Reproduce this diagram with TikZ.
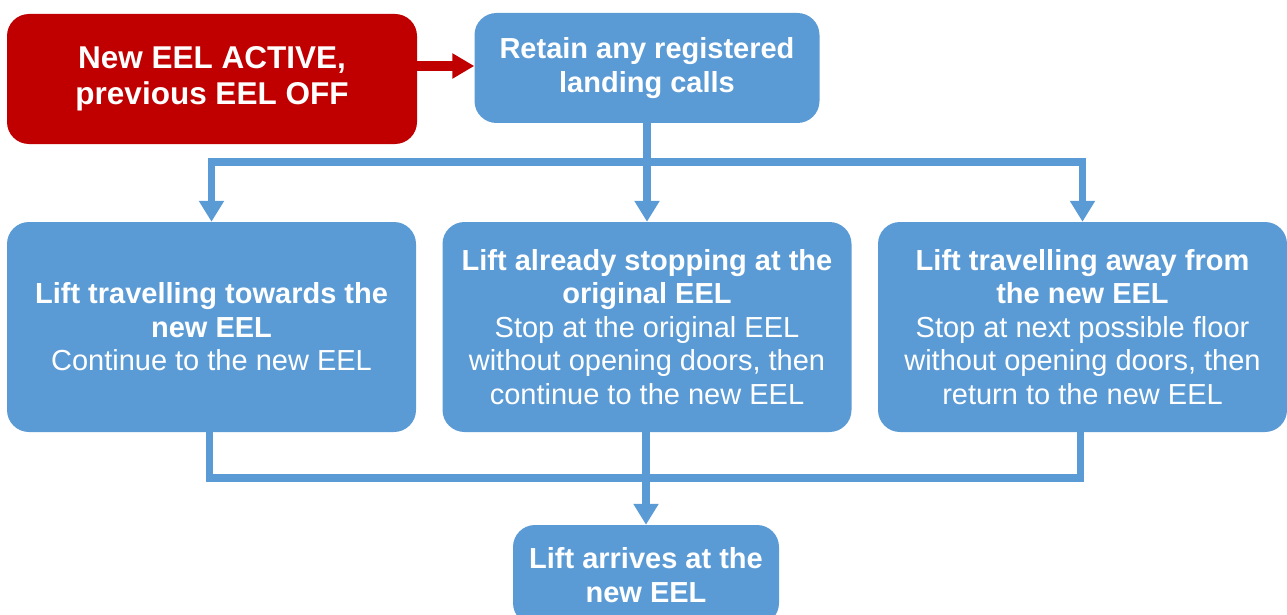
\documentclass[tikz,border=0pt]{standalone}
\usepackage{fontspec}
\setmainfont{Liberation Sans}
\usetikzlibrary{arrows.meta}
\definecolor{boxred}{HTML}{C00000}
\definecolor{boxblue}{HTML}{5B9BD5}
\begin{document}
\begin{tikzpicture}[x=1pt,y=-1pt,
  box/.style={rounded corners=22pt, inner sep=0pt, align=center, text=white,
    font=\fontsize{29}{33.5}\selectfont, minimum width=#1},
  redbox/.style={box=410pt, fill=boxred, minimum height=130pt,
    font=\fontsize{31.5}{36}\selectfont},
  bluebox/.style={box=409pt, fill=boxblue, minimum height=210pt},
  flow/.style={draw=boxblue, line width=7.5pt},
  flowarr/.style={flow, -{Triangle[length=21pt,width=24pt]}},
  redarr/.style={draw=boxred, line width=10pt, -{Triangle[length=22pt,width=24pt]}}]
\useasboundingbox (0,0) rectangle (1287,615);

% top row
\node[redbox] (red) at (212,79) {\textbf{New EEL ACTIVE,}\\\textbf{previous EEL OFF}};
\node[box=345pt, fill=boxblue, minimum height=110pt] (retain) at (647,68)
  {\textbf{Retain any registered}\\\textbf{landing calls}};

% three cases
\node[bluebox] (b1) at (211.5,327)
  {\textbf{Lift travelling towards the}\\\textbf{new EEL}\\Continue to the new EEL};
\node[bluebox] (b2) at (647,327)
  {\textbf{Lift already stopping at the}\\\textbf{original EEL}\\Stop at the original EEL\\without opening doors, then\\continue to the new EEL};
\node[bluebox] (b3) at (1082.5,327)
  {\textbf{Lift travelling away from}\\\textbf{the new EEL}\\Stop at next possible floor\\without opening doors, then\\return to the new EEL};

% result
\node[box=266pt, fill=boxblue, minimum height=100pt] (arrive) at (646,575)
  {\textbf{Lift arrives at the}\\\textbf{new EEL}};

% connectors
\coordinate (rs) at ([yshift=13pt]red.east);
\draw[redarr] (rs) -- (rs -| retain.west);

\coordinate (split) at (647,162);
\draw[flowarr] (retain.south) -- (b2.north);
\draw[flowarr] (split) -| (b1.north);
\draw[flowarr] (split) -| (b3.north);

\coordinate (merge) at (646,478);
\draw[flow] ([xshift=-2pt]b1.south) |- (merge) -| ([xshift=-2pt]b3.south);
\draw[flowarr] ([xshift=-1pt]b2.south) -- ([xshift=-1pt]b2.south |- arrive.north);
\end{tikzpicture}
\end{document}
